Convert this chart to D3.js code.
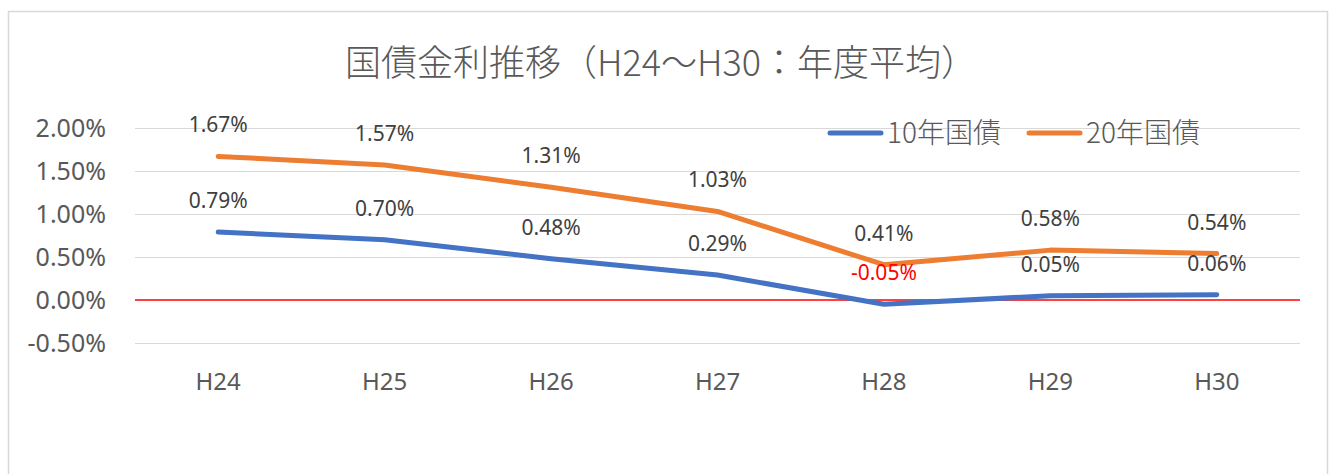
<!DOCTYPE html>
<meta charset="utf-8">
<style>
body { margin: 0; background: #fff; }
text { font-family: "Noto Sans", "Noto Sans CJK JP", sans-serif; fill: #595959; }
.cjk { font-family: "Noto Sans CJK JP", sans-serif; }
.grid line { stroke: #d9d9d9; stroke-width: 1.3; shape-rendering: crispEdges; }
</style>
<body>
<svg width="1333" height="474"></svg>
<script src="https://d3js.org/d3.v7.min.js"></script>
<script>

var title = "国債金利推移（H24〜H30：年度平均）";
var years = ["H24", "H25", "H26", "H27", "H28", "H29", "H30"];
var yield10 = [0.79, 0.70, 0.48, 0.29, -0.05, 0.05, 0.06];
var yield20 = [1.67, 1.57, 1.31, 1.03, 0.41, 0.58, 0.54];
var yTicks = [-0.5, 0, 0.5, 1.0, 1.5, 2.0];

var series = [
	{name: "10年国債", values: yield10, color: "#4472C4"},
	{name: "20年国債", values: yield20, color: "#ED7D31"}
];

var pct = d3.formatLocale({decimal: ".", thousands: ",", grouping: [3], currency: ["", ""], minus: "-"}).format(".2f");
function fmt(d){ return pct(d) + "%"; }

var svg = d3.select("svg");

// chart frame
svg.append("rect")
	.attr("x", 8.5).attr("y", 11.5)
	.attr("width", 1319).attr("height", 480)
	.attr("fill", "none")
	.attr("stroke", "#d9d9d9")
	.attr("stroke-width", 1.5);

var x = d3.scaleBand()
	.domain(years)
	.range([135, 1300]);

var y = d3.scaleLinear()
	.domain([-0.5, 2.0])
	.range([343, 128]);

// grid
var grid = svg.append("g").attr("class", "grid");
grid.selectAll("line")
	.data(yTicks.filter(function(d){ return d != 0; }))
	.enter().append("line")
	.attr("x1", 135).attr("x2", 1300)
	.attr("y1", function(d){ return Math.round(y(d)) + 0.5; })
	.attr("y2", function(d){ return Math.round(y(d)) + 0.5; });

// zero line
svg.append("line")
	.attr("x1", 135).attr("x2", 1300)
	.attr("y1", y(0)).attr("y2", y(0))
	.attr("stroke", "#ff0000")
	.attr("stroke-width", 1.5);

// y axis labels
var yAxis = d3.axisLeft(y)
	.tickValues(yTicks)
	.tickSize(0)
	.tickPadding(0)
	.tickFormat(fmt);

var ya = svg.append("g")
	.attr("transform", "translate(106,0)")
	.call(yAxis);
ya.select(".domain").remove();
ya.selectAll("text")
	.attr("font-size", 25)
	.style("fill", "#595959");

// x axis labels
var xAxis = d3.axisBottom(x).tickSize(0).tickPadding(0);
var xa = svg.append("g")
	.attr("transform", "translate(0,373)")
	.call(xAxis);
xa.select(".domain").remove();
xa.selectAll("text")
	.attr("font-size", 24)
	.style("fill", "#595959");

function cx(d, i){ return x(years[i]) + x.bandwidth() / 2; }

var line = d3.line()
	.x(cx)
	.y(function(d){ return y(d); });

series.forEach(function(s){
	svg.append("path")
		.attr("d", line(s.values))
		.attr("fill", "none")
		.attr("stroke", s.color)
		.attr("stroke-width", 5)
		.attr("stroke-linecap", "round")
		.attr("stroke-linejoin", "round");
});

// data labels
series.forEach(function(s){
	svg.append("g").selectAll("text")
		.data(s.values)
		.enter().append("text")
		.attr("x", cx)
		.attr("y", function(d){ return y(d) - 24; })
		.attr("text-anchor", "middle")
		.attr("font-size", 21)
		.style("fill", function(d){ return d < 0 ? "#ff0000" : "#404040"; })
		.text(fmt);
});

// title
svg.append("text")
	.attr("class", "cjk")
	.attr("x", 661)
	.attr("y", 76)
	.attr("text-anchor", "middle")
	.attr("font-size", 36)
	.attr("font-weight", 300)
	.text(title);

// legend
var legend = svg.append("g").attr("transform", "translate(828,133)");
var lg = legend.selectAll("g")
	.data(series)
	.enter().append("g")
	.attr("transform", function(d, i){ return "translate(" + (i * 199) + ",0)"; });
lg.append("line")
	.attr("x1", 2).attr("x2", 53)
	.attr("stroke", function(d){ return d.color; })
	.attr("stroke-width", 5)
	.attr("stroke-linecap", "round");
lg.append("text")
	.attr("class", "cjk")
	.attr("x", 59)
	.attr("y", 10)
	.attr("font-size", 28)
	.attr("font-weight", 300)
	.text(function(d){ return d.name; });

</script>
</body>
</html>
